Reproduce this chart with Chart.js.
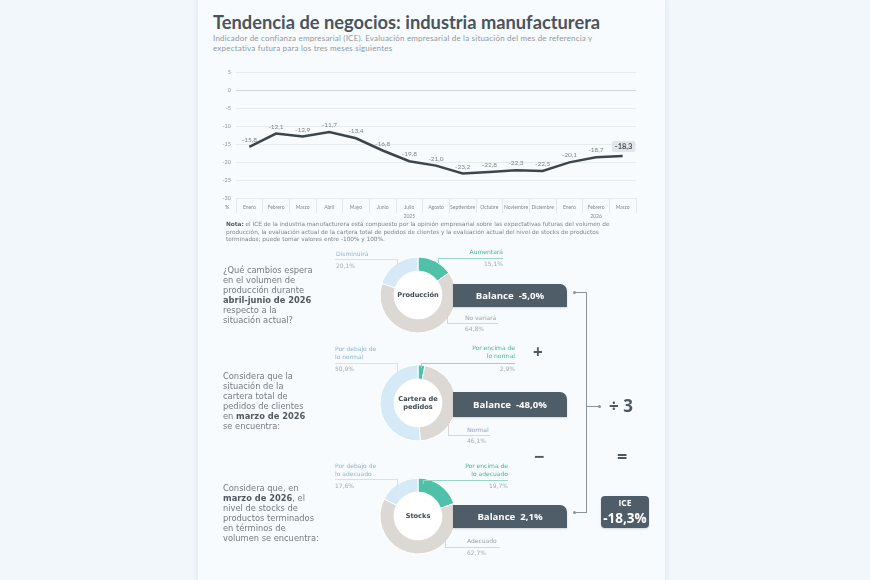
<!DOCTYPE html>
<html>
<head>
<meta charset="utf-8">
<script src="https://cdn.jsdelivr.net/npm/chart.js@4.4.1/dist/chart.umd.min.js"></script>
<style>
  html,body{margin:0;padding:0;}
  body{width:870px;height:580px;background:#f2f7fb;position:relative;overflow:hidden;font-family:'DejaVu Sans',sans-serif;}
  #card{position:absolute;left:198px;top:-16px;width:467px;height:610px;background:#f8fbfd;border-radius:16px;
        border-top:3px solid #d3e8f2;box-shadow:0 0 6px rgba(160,190,210,0.35);}
  .t{position:absolute;white-space:pre;}
  .t > div{white-space:pre;}
  .r{transform:translateX(-100%);text-align:right;}
  .c{transform:translateX(-50%);text-align:center;}
  canvas{position:absolute;}
  .box{position:absolute;background:#4f5d68;color:#fff;font-family:'Open Sans',sans-serif;font-weight:700;
       display:flex;align-items:center;justify-content:center;white-space:pre;box-shadow:0 1px 2px rgba(0,0,0,0.15);}
  .ln{position:absolute;}
</style>
</head>
<body>
<div id="card"></div>
<canvas id="linea" width="440" height="165" style="left:205px;top:60px;width:440px;height:165px"></canvas>
<canvas id="d1" width="90" height="90" style="left:373px;top:250px;width:90px;height:90px"></canvas>
<canvas id="d2" width="90" height="90" style="left:373px;top:358px;width:90px;height:90px"></canvas>
<canvas id="d3" width="90" height="90" style="left:373px;top:471px;width:90px;height:90px"></canvas>
<div id="layer"></div>
<script>
// ---- datos ----
const meses = ['Enero','Febrero','Marzo','Abril','Mayo','Junio','Julio','Agosto','Septiembre','Octubre','Noviembre','Diciembre','Enero','Febrero','Marzo'];
const anios = ['','','','','','','2025','','','','','','','2026',''];
const ice = [-15.8,-12.1,-12.9,-11.7,-13.4,-16.8,-19.8,-21.0,-23.2,-22.8,-22.3,-22.5,-20.1,-18.7,-18.3];
const yMin = -30, yMax = 5, yStep = 5;

const produccionCats = ['Aumentará','No variará','Disminuirá'];
const produccionVals = [15.1, 64.8, 20.1];
const carteraCats = ['Por encima de\nlo normal','Normal','Por debajo de\nlo normal'];
const carteraVals = [2.9, 46.1, 50.9];
const stocksCats = ['Por encima de\nlo adecuado','Adecuado','Por debajo de\nlo adecuado'];
const stocksVals = [19.7, 62.7, 17.6];
const balances = [-5.0, -48.0, 2.1];
const iceFinal = -18.3;

const fmt = v => v.toFixed(1).replace('.', ',');
const TEAL = '#4fc1a8', GRAY = '#dcd8d3', BLUE = '#d5eaf6';
const DJ = "'DejaVu Sans',sans-serif";

// ---- helpers de texto (y = centro de la primera línea, una div por línea) ----
const layer = document.getElementById('layer');
function put(html, x, y, o={}){
  const d = document.createElement('div');
  d.className = 't' + (o.right ? ' r' : '') + (o.center ? ' c' : '');
  const lh = o.lh || 9;
  d.style.cssText += `left:${x}px;top:${y - lh/2}px;line-height:${lh}px;font-size:${o.size||6.2}px;color:${o.color||'#7a8489'};` +
    `font-family:${o.font||DJ};font-weight:${o.weight||400};letter-spacing:${o.ls||0}px;`;
  html.split('\n').forEach(l => {
    const row = document.createElement('div');
    row.style.height = lh + 'px';
    row.innerHTML = l;
    d.appendChild(row);
  });
  layer.appendChild(d);
  return d;
}
function hline(x1, x2, y, c){ const d=document.createElement('div'); d.className='ln'; d.style.cssText=`left:${x1}px;top:${y}px;width:${x2-x1}px;height:1px;background:${c}`; layer.appendChild(d); }
function vline(x, y1, y2, c){ const d=document.createElement('div'); d.className='ln'; d.style.cssText=`left:${x}px;top:${y1}px;width:1px;height:${y2-y1}px;background:${c}`; layer.appendChild(d); }
function dot(x, y, c){ const d=document.createElement('div'); d.className='ln'; d.style.cssText=`left:${x-1.5}px;top:${y-1.5}px;width:3px;height:3px;border-radius:50%;background:${c}`; layer.appendChild(d); }

// ---- encabezado ----
put('Tendencia de negocios: industria manufacturera', 213, 22, {size:18.3, lh:24, color:'#4a545b', weight:700, font:'Lato'});
put('Indicador de confianza empresarial (ICE). Evaluación empresarial de la situación del mes de referencia y\nexpectativa futura para los tres meses siguientes', 213, 37.5, {size:8, lh:10, color:'#8e989e', font:'Lato', ls:0.2});
put('%', 225, 207, {size:5.5, color:'#7f8a90', font:'Lato'});
put('<b style="color:#4f585e">Nota:</b> el ICE de la industria manufacturera está compuesto por la opinión empresarial sobre las expectativas futuras del volumen de\nproducción, la evaluación actual de la cartera total de pedidos de clientes y la evaluación actual del nivel de stocks de productos\nterminados; puede tomar valores entre -100% y 100%.', 226, 225, {size:5.75, lh:7.2, color:'#7a8489'});

// ---- gráfico de línea ----
const etiquetas = {
  id:'etiquetas',
  afterDatasetsDraw(chart){
    const {ctx} = chart;
    const pts = chart.getDatasetMeta(0).data;
    ctx.save();
    ctx.textAlign = 'center'; ctx.textBaseline = 'middle';
    pts.forEach((p,i)=>{
      const s = fmt(ice[i]);
      if (i === pts.length-1){
        ctx.font = "700 7.5px Lato";
        const w = ctx.measureText(s).width + 6;
        ctx.fillStyle = '#e2e6e9';
        ctx.beginPath(); ctx.roundRect(p.x - w/2 + 1, p.y - 15, w, 11, 2); ctx.fill();
        ctx.fillStyle = '#46525a';
        ctx.fillText(s, p.x + 1, p.y - 9.5);
      } else {
        ctx.font = "6.5px Lato";
        ctx.fillStyle = '#7b868c';
        ctx.fillText(s, p.x, p.y - 7);
      }
    });
    ctx.restore();
  }
};
new Chart(document.getElementById('linea'), {
  type:'line',
  data:{ labels: meses.map((m,i)=> anios[i] ? [m, anios[i]] : m),
         datasets:[{ data: ice, borderColor:'#3c464c', borderWidth:2.5, pointRadius:0, tension:0, fill:false }] },
  options:{
    responsive:false, animation:false,
    layout:{ padding:{ top:12, right:9, left:0, bottom:0 } },
    plugins:{ legend:{display:false}, tooltip:{enabled:false} },
    scales:{
      x:{ offset:true,
          grid:{ offset:true, drawOnChartArea:false, drawTicks:true, tickLength:15, color:'#e3e8eb' },
          border:{ display:false },
          ticks:{ padding:-10, autoSkip:false, maxRotation:0, color:'#7f8a90', font:{ size:5, family:'Lato', lineHeight:1.75 } },
          afterFit(s){ s.height = 27; } },
      y:{ min:yMin, max:yMax,
          ticks:{ stepSize:yStep, padding:5, color:'#8a949a', font:{ size:5.5, family:'Lato' } },
          grid:{ drawTicks:false, color: c => c.tick && c.tick.value === 0 ? '#cfd6da' : '#e6ebee' },
          border:{ display:false },
          afterFit(s){ s.width = 31; } }
    }
  },
  plugins:[etiquetas]
});

// ---- donas ----
const discoBlanco = {
  id:'discoBlanco',
  beforeDatasetsDraw(chart){
    const a = chart.getDatasetMeta(0).data[0];
    if (!a) return;
    const {ctx} = chart;
    ctx.save();
    ctx.shadowColor = 'rgba(120,140,150,0.25)'; ctx.shadowBlur = 3;
    ctx.fillStyle = '#ffffff';
    ctx.beginPath(); ctx.arc(a.x, a.y, a.innerRadius, 0, Math.PI*2); ctx.fill();
    ctx.restore();
  }
};
function dona(id, cats, vals){
  new Chart(document.getElementById(id), {
    type:'doughnut',
    data:{ labels: cats, datasets:[{ data: vals, backgroundColor:[TEAL, GRAY, BLUE], borderWidth:1, borderColor:'#ffffff' }] },
    options:{ responsive:false, animation:false, radius:38, cutout:28,
              plugins:{ legend:{display:false}, tooltip:{enabled:false} } },
    plugins:[discoBlanco]
  });
}
dona('d1', produccionCats, produccionVals);
dona('d2', carteraCats, carteraVals);
dona('d3', stocksCats, stocksVals);

const cBlue = '#8db6ca', cTeal = '#3fb89d', cGray = '#9aa3a8', cPct = '#a3abb0';
const lBlue = '#cfe4ef', lTeal = '#97d6c8', lGray = '#d6d6d6';
const lab = {size:6, lh:8};

// centros
put('Producción', 418, 295, {size:6.6, weight:700, color:'#3f4a52', center:true});
put('Cartera de\npedidos', 418, 399, {size:6.6, lh:8.5, weight:700, color:'#3f4a52', center:true});
put('Stocks', 418, 516, {size:6.6, weight:700, color:'#3f4a52', center:true});

// dona 1
put(produccionCats[2], 336, 254, {...lab, color:cBlue}); hline(335,397,259,lBlue); vline(397,259,265,lBlue); put(fmt(produccionVals[2])+'%', 336, 266, {...lab, color:cPct});
put(produccionCats[0], 503, 252, {...lab, color:cTeal, right:true}); hline(438,503,258,lTeal); vline(438,258,263,lTeal); put(fmt(produccionVals[0])+'%', 503, 264, {...lab, color:cPct, right:true});
put(produccionCats[1], 465, 318, {...lab, color:cGray}); hline(447,498,323,lGray); vline(447,313,323,lGray); put(fmt(produccionVals[1])+'%', 465, 329, {...lab, color:cPct});
// dona 2
put(carteraCats[2], 335, 349, {...lab, color:cBlue}); hline(335,397,363,lBlue); vline(397,363,372,lBlue); put(fmt(carteraVals[2])+'%', 335, 369, {...lab, color:cPct});
put(carteraCats[0], 515, 348, {...lab, color:cTeal, right:true}); hline(421,515,363,lTeal); vline(421,363,368,lTeal); put(fmt(carteraVals[0])+'%', 515, 369, {...lab, color:cPct, right:true});
put(carteraCats[1], 467, 430, {...lab, color:cGray}); hline(448,490,435,lGray); vline(448,425,435,lGray); put(fmt(carteraVals[1])+'%', 467, 441, {...lab, color:cPct});
// dona 3
put(stocksCats[2], 335, 466, {...lab, color:cBlue}); hline(335,397,479,lBlue); vline(397,479,487,lBlue); put(fmt(stocksVals[2])+'%', 335, 486, {...lab, color:cPct});
put(stocksCats[0], 508, 466, {...lab, color:cTeal, right:true}); hline(423,508,480,lTeal); vline(423,480,484,lTeal); put(fmt(stocksVals[0])+'%', 508, 486, {...lab, color:cPct, right:true});
put(stocksCats[1], 467, 541, {...lab, color:cGray}); hline(445,500,547,lGray); vline(445,535,547,lGray); put(fmt(stocksVals[1])+'%', 467, 553, {...lab, color:cPct});

// preguntas
const qs = {size:8.3, lh:10, color:'#737b80'};
const b = s => '<b style="color:#50595f">' + s + '</b>';
put('¿Qué cambios espera\nen el volumen de\nproducción durante\n' + b('abril-junio de 2026') + '\nrespecto a la\nsituación actual?', 223, 270, qs);
put('Considera que la\nsituación de la\ncartera total de\npedidos de clientes\nen ' + b('marzo de 2026') + '\nse encuentra:', 223, 376, qs);
put('Considera que, en\n' + b('marzo de 2026') + ', el\nnivel de stocks de\nproductos terminados\nen términos de\nvolumen se encuentra:', 223, 488, qs);

// balances
const boxY = [284, 392, 505], boxH = [23, 25, 23];
balances.forEach((v,i)=>{
  const d = document.createElement('div');
  d.className = 'box';
  d.style.cssText += `left:453px;top:${boxY[i]}px;width:114px;height:${boxH[i]}px;border-radius:0 7px 0 0;font-size:9.6px;`;
  d.textContent = 'Balance  ' + fmt(v) + '%';
  layer.appendChild(d);
});
const cLine = '#8a949a';
hline(574,586,292,cLine); dot(574,292,cLine);
hline(574,586,512,cLine); dot(574,512,cLine);
vline(586,292,513,cLine);
hline(586,599,406,cLine); dot(599,406,cLine);
put('÷ 3', 609, 406, {size:17, lh:20, weight:700, color:'#4d5961', font:"'Open Sans',sans-serif"});
put('+', 533, 352, {size:17, lh:20, weight:700, color:'#4d5961', font:"'Open Sans',sans-serif"});
put('−', 534, 456, {size:18, lh:20, weight:700, color:'#4d5961', font:"'Open Sans',sans-serif"});
put('=', 617, 456, {size:18, lh:20, weight:700, color:'#4d5961', font:"'Open Sans',sans-serif"});

const iceBox = document.createElement('div');
iceBox.className = 'box';
iceBox.style.cssText += 'left:601px;top:496px;width:48px;height:32px;border-radius:4px;flex-direction:column;';
iceBox.innerHTML = '<div style="font-size:8.5px;line-height:12px;height:12px">ICE</div>' +
                   '<div style="font-size:13.5px;line-height:19px;height:19px">' + fmt(iceFinal) + '%</div>';
layer.appendChild(iceBox);
</script>
</body>
</html>
